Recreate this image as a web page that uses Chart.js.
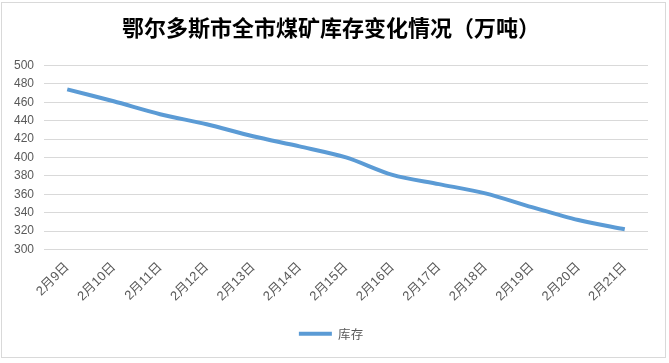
<!DOCTYPE html>
<html>
<head>
<meta charset="utf-8">
<script src="https://cdn.jsdelivr.net/npm/chart.js@4.4.1/dist/chart.umd.min.js"></script>
<style>
  html, body { margin: 0; padding: 0; background: #fff; }
  #box {
    position: absolute; left: 1px; top: 2px;
    width: 665px; height: 356px; box-sizing: border-box;
    border: 1px solid #d9d9d9;
  }
  #box canvas { display: block; }
</style>
</head>
<body>
<div id="box"><canvas id="stockChart" width="663" height="354"></canvas></div>
<script>
// 日期（类目）
const dates = ['2月9日', '2月10日', '2月11日', '2月12日', '2月13日', '2月14日', '2月15日',
               '2月16日', '2月17日', '2月18日', '2月19日', '2月20日', '2月21日'];
// 库存（万吨）
const stock = [474, 461, 447, 436, 423, 412, 400, 381, 371, 361, 346, 332, 322];
// 纵轴刻度范围
const yMin = 300;
const yMax = 500;
const yStep = 20;

const tickFont = { family: '"Liberation Sans", "Noto Sans CJK SC", sans-serif', size: 12 };

new Chart(document.getElementById('stockChart'), {
    type: 'line',
    data: {
        labels: dates,
        datasets: [{
            label: '库存',
            data: stock,
            borderColor: '#5b9bd5',
            backgroundColor: '#5b9bd5',
            borderWidth: 4,
            pointRadius: 0,
            tension: 0.3,
            fill: false
        }]
    },
    options: {
        responsive: false,
        animation: false,
        layout: { padding: { left: 0, right: 5, top: 0, bottom: 7 } },
        plugins: {
            title: {
                display: true,
                text: '鄂尔多斯市全市煤矿库存变化情况（万吨）',
                color: '#000',
                font: { family: '"Noto Sans CJK SC", sans-serif', size: 22, weight: 'bold' },
                padding: { top: 11, bottom: 25 }
            },
            legend: {
                position: 'bottom',
                labels: {
                    usePointStyle: true,
                    pointStyle: 'line',
                    pointStyleWidth: 33,
                    padding: 6,
                    color: '#595959',
                    font: { family: '"Noto Sans CJK SC", sans-serif', size: 12.5 }
                }
            },
            tooltip: { enabled: false }
        },
        scales: {
            x: {
                offset: true,
                grid: { display: false },
                border: { display: false },
                ticks: {
                    color: '#595959',
                    font: { family: tickFont.family, size: 13 },
                    minRotation: 45,
                    maxRotation: 45,
                    padding: 2,
                    autoSkip: false
                },
                afterFit: (scale) => { scale.height = 72; }
            },
            y: {
                min: yMin,
                max: yMax,
                border: { display: false },
                grid: { color: '#d9d9d9', drawTicks: false },
                ticks: {
                    stepSize: yStep,
                    color: '#595959',
                    font: tickFont,
                    padding: 10
                },
                afterFit: (scale) => { scale.width = 42; }
            },
            // 右侧留白用的空轴
            yRight: {
                position: 'right',
                grid: { display: false },
                border: { display: false },
                ticks: { display: false },
                afterFit: (scale) => { scale.width = 12; }
            }
        }
    }
});
</script>
</body>
</html>
